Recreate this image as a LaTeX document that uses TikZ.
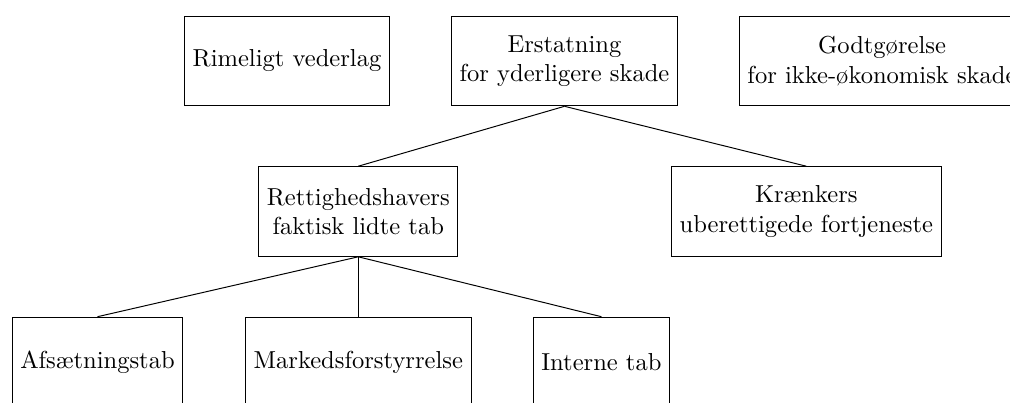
\documentclass[tikz,border=0pt]{standalone}
\begin{document}
\begin{tikzpicture}[x=0.4073pt,y=-0.4073pt,
  box/.style={draw, line width=0.4pt, align=center, minimum height=36.5pt, inner sep=3.333pt},
  link/.style={draw, line width=0.4pt}]
\useasboundingbox (0,0) rectangle (1010,403);
\clip (0,0) rectangle (1010,403);
% top row
\node[box] (rim) at (287,61) {Rimeligt vederlag};
\node[box] (ers) at (564.5,61) {Erstatning\\for yderligere skade};
\node[box] (god) at (882,61) {Godtgørelse\\for ikke-økonomisk skade};
% middle row
\node[box] (ret) at (358.3,211.5) {Rettighedshavers\\faktisk lidte tab};
\node[box] (kra) at (806.3,211.5) {Krænkers\\uberettigede fortjeneste};
% bottom row
\node[box] (afs) at (97.5,362) {Afsætningstab};
\node[box] (mar) at (358.3,362) {Markedsforstyrrelse};
\node[box] (int) at (601.4,362) {Interne tab};
% connectors
\draw[link] (ers.south) -- (ret.north);
\draw[link] (ers.south) -- (kra.north);
\draw[link] (ret.south) -- (afs.north);
\draw[link] (ret.south) -- (mar.north);
\draw[link] (ret.south) -- (int.north);
\end{tikzpicture}
\end{document}
